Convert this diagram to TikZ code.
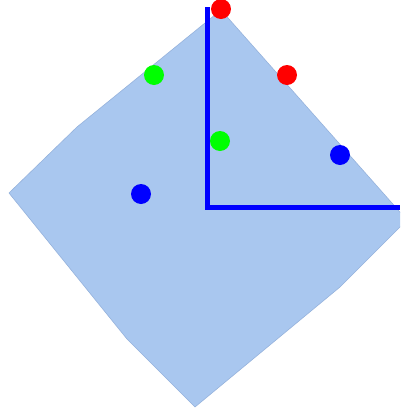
\documentclass[tikz,border=0pt]{standalone}
\usetikzlibrary{positioning}
\definecolor{regionfill}{RGB}{169,199,239}
\definecolor{regionedge}{RGB}{150,178,220}
\tikzset{region/.style={fill=regionfill,draw=regionedge,line width=0.6pt},axis/.style={draw={rgb,255:red,0;green,0;blue,255},line width=5pt},dot/.style={circle,inner sep=0pt,minimum size=20pt},reddot/.style={dot,fill={rgb,255:red,255;green,0;blue,0}},greendot/.style={dot,fill={rgb,255:red,0;green,255;blue,0}},bluedot/.style={dot,fill={rgb,255:red,0;green,0;blue,255}}}

\begin{document}
\begin{tikzpicture}[x=1pt,y=-1pt]
\useasboundingbox (0,0) rectangle (400,408);
\begin{scope}
\clip (0,0) rectangle (400,408);
\draw[region] (221,10) -- (77,127) -- (9,193) -- (127,339) -- (195,407) -- (340,287) -- (407,220) -- cycle;
\end{scope}
\coordinate (ytip) at (207.5,7);
\coordinate (origin) at (207.5,207.5);
\coordinate (xtip) at (400,207.5);
\draw[axis] (ytip) -- (origin) -- (xtip);
\node[reddot] (r1) at (221,9) {};
\node[reddot] (r2) at (287,75) {};
\node[greendot] (g1) at (154,75) {};
\node[greendot] (g2) at (220,141) {};
\node[bluedot] (b1) at (340,155) {};
\node[bluedot] (b2) at (141,194) {};
\end{tikzpicture}
\end{document}
